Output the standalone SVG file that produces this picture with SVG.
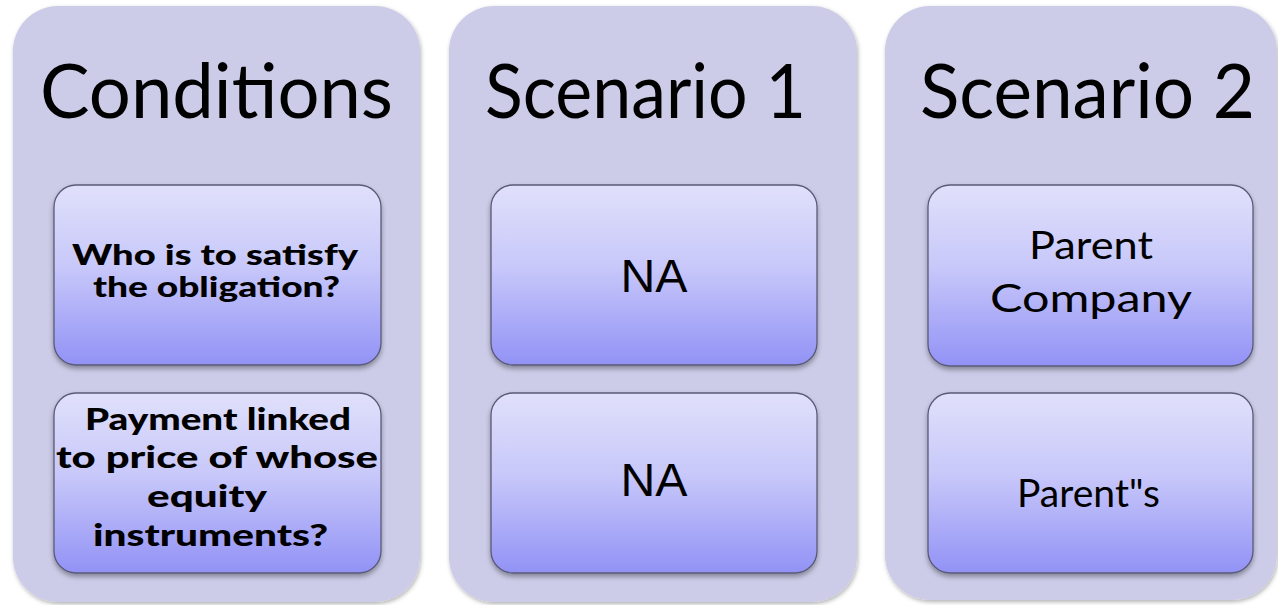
<svg xmlns="http://www.w3.org/2000/svg" width="1278" height="605" viewBox="0 0 1278 605">
<defs>
<linearGradient id="boxGrad" x1="0" y1="0" x2="0" y2="1">
<stop offset="0" stop-color="#E0E0FB"/>
<stop offset="0.45" stop-color="#C8C8FA"/>
<stop offset="1" stop-color="#9292F6"/>
</linearGradient>
<filter id="panelShadow" x="-10%" y="-10%" width="120%" height="120%">
<feDropShadow dx="1" dy="2" stdDeviation="2" flood-color="#000" flood-opacity="0.3"/>
</filter>
<filter id="boxShadow" x="-10%" y="-10%" width="120%" height="125%">
<feDropShadow dx="0" dy="3" stdDeviation="2.5" flood-color="#000" flood-opacity="0.35"/>
</filter>
</defs>
<style>
.panel { fill: #CCCCE8; filter: url(#panelShadow); }
.box { fill: url(#boxGrad); stroke: #5A5A78; stroke-width: 1.3; filter: url(#boxShadow); }
.title { font-family: Lato, "Liberation Sans", sans-serif; font-size: 76px; fill: #000; text-anchor: middle; }
.bold { font-family: Lato, "Liberation Sans", sans-serif; font-weight: 900; font-size: 31px; fill: #000; text-anchor: middle; }
.bold-s { font-family: Lato, "Liberation Sans", sans-serif; font-weight: 900; font-size: 28px; fill: #000; text-anchor: middle; }
.na { font-family: "Liberation Sans", Arial, sans-serif; font-size: 46px; fill: #000; text-anchor: middle; }
.reg { font-family: Lato, "Liberation Sans", sans-serif; font-size: 38px; fill: #000; text-anchor: middle; }
</style>
<rect width="1278" height="605" fill="#FFFFFF"/>

<g id="panel-conditions">
<rect class="panel" x="13" y="6" width="407" height="596" rx="45" ry="45"/>
<text class="title" x="216.5" y="118" textLength="353" lengthAdjust="spacingAndGlyphs">Conditions</text>
</g>
<g id="panel-scenario1">
<rect class="panel" x="449" y="6" width="408" height="596" rx="45" ry="45"/>
<text class="title" x="645.5" y="118" textLength="321" lengthAdjust="spacingAndGlyphs">Scenario 1</text>
</g>
<g id="panel-scenario2">
<rect class="panel" x="885" y="6" width="392" height="594" rx="45" ry="45"/>
<text class="title" x="1087.5" y="118" textLength="335" lengthAdjust="spacingAndGlyphs">Scenario 2</text>
</g>

<g id="box-who">
<rect class="box" x="54" y="185" width="327" height="180" rx="22" ry="22"/>
<text class="bold-s" x="215" y="265" textLength="286" lengthAdjust="spacingAndGlyphs">Who is to satisfy</text>
<text class="bold-s" x="216.5" y="297" textLength="247" lengthAdjust="spacingAndGlyphs">the obligation?</text>
</g>
<g id="box-payment">
<rect class="box" x="54" y="393" width="327" height="180" rx="22" ry="22"/>
<text class="bold" x="218" y="430" textLength="266" lengthAdjust="spacingAndGlyphs">Payment linked</text>
<text class="bold" x="217" y="468" textLength="322" lengthAdjust="spacingAndGlyphs">to price of whose</text>
<text class="bold" x="207" y="507" textLength="120" lengthAdjust="spacingAndGlyphs">equity</text>
<text class="bold" x="210.5" y="546" textLength="235" lengthAdjust="spacingAndGlyphs">instruments?</text>
</g>

<g id="box-s1-who">
<rect class="box" x="491" y="185" width="326" height="180" rx="22" ry="22"/>
<text class="na" x="654" y="292" textLength="67" lengthAdjust="spacingAndGlyphs">NA</text>
</g>
<g id="box-s1-payment">
<rect class="box" x="491" y="393" width="326" height="180" rx="22" ry="22"/>
<text class="na" x="654" y="496" textLength="67" lengthAdjust="spacingAndGlyphs">NA</text>
</g>

<g id="box-s2-who">
<rect class="box" x="928" y="185" width="325" height="181" rx="22" ry="22"/>
<text class="reg" x="1091" y="259" textLength="124" lengthAdjust="spacingAndGlyphs">Parent</text>
<text class="reg" x="1091" y="312" textLength="202" lengthAdjust="spacingAndGlyphs">Company</text>
</g>
<g id="box-s2-payment">
<rect class="box" x="928" y="393" width="325" height="180" rx="22" ry="22"/>
<text class="reg" x="1088.5" y="507" textLength="143" lengthAdjust="spacingAndGlyphs">Parent"s</text>
</g>

<g id="connectors"></g>
</svg>
